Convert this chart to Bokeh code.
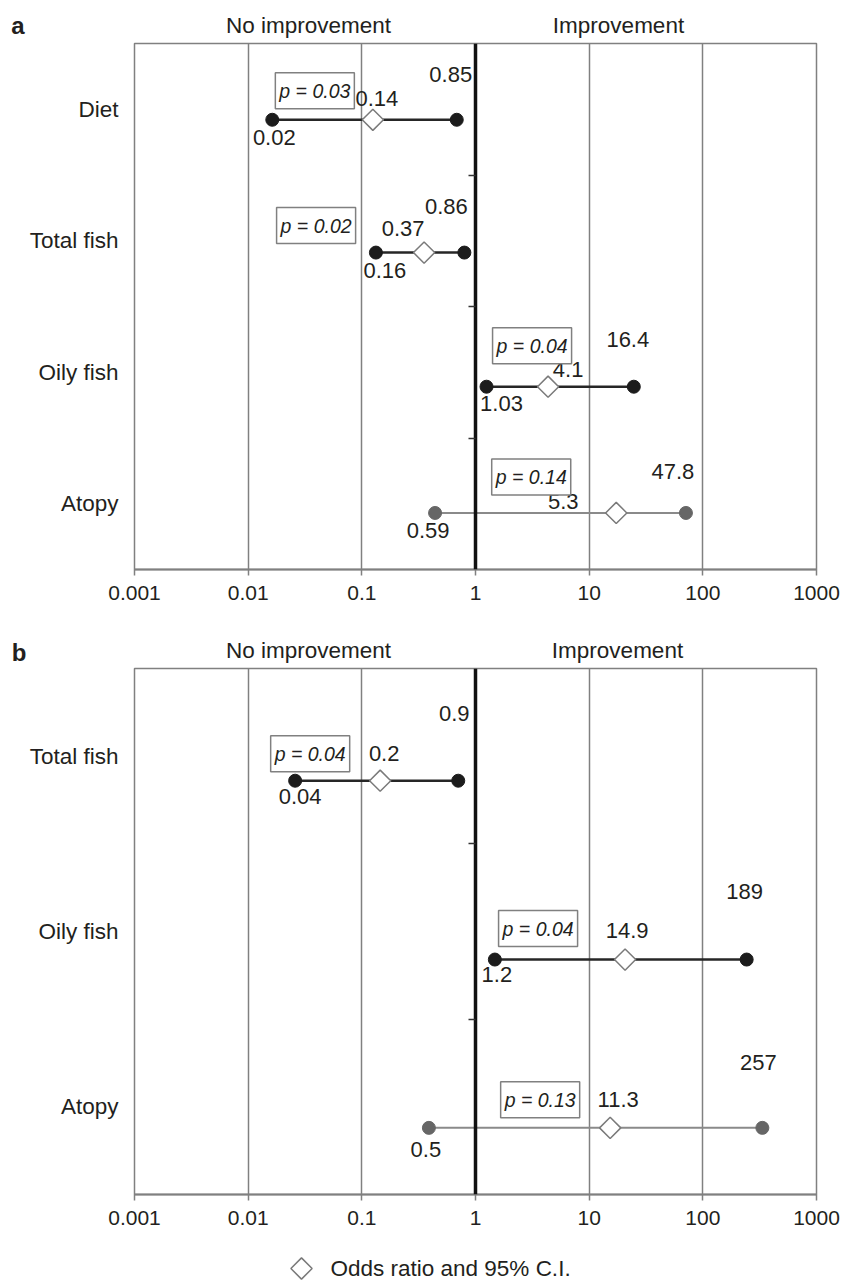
import math
from bokeh.plotting import figure
from bokeh.layouts import column
from bokeh.models import (ColumnDataSource, FixedTicker, LinearAxis,
                          PrintfTickFormatter, Range1d)
from bokeh.core.properties import value
from bokeh.embed import file_html
from bokeh.resources import INLINE

# ---------------- data ----------------
x_ticks = [0.001, 0.01, 0.1, 1, 10, 100, 1000]
x_tick_labels = ["0.001", "0.01", "0.1", "1", "10", "100", "1000"]
grid_ticks = [0.01, 0.1, 10, 100]

# panel a
a_cats = ["Diet", "Total fish", "Oily fish", "Atopy"]
a_row_y = [3.42, 2.41, 1.39, 0.43]          # plotted row positions (category units)
a_or = [0.125, 0.353, 4.35, 17.3]           # plotted odds ratio
a_lo = [0.0163, 0.133, 1.25, 0.441]         # plotted lower CI
a_hi = [0.684, 0.798, 24.7, 71.0]           # plotted upper CI
a_or_lbl = ["0.14", "0.37", "4.1", "5.3"]
a_lo_lbl = ["0.02", "0.16", "1.03", "0.59"]
a_hi_lbl = ["0.85", "0.86", "16.4", "47.8"]
a_p = ["p = 0.03", "p = 0.02", "p = 0.04", "p = 0.14"]
a_sig = [True, True, True, False]

# panel b
b_cats = ["Total fish", "Oily fish", "Atopy"]
b_row_y = [2.36, 1.34, 0.38]
b_or = [0.145, 20.7, 15.3]
b_lo = [0.0259, 1.48, 0.389]
b_hi = [0.705, 243.0, 334.0]
b_or_lbl = ["0.2", "14.9", "11.3"]
b_lo_lbl = ["0.04", "1.2", "0.5"]
b_hi_lbl = ["0.9", "189", "257"]
b_p = ["p = 0.04", "p = 0.04", "p = 0.13"]
b_sig = [True, True, False]

header_texts = ["No improvement", "Improvement"]
legend_text = "Odds ratio and 95% C.I."

# ---------------- layout / style (pixels) ----------------
a_lo_off = [(2, 18), (9, 18), (15, 17), (-7, 18)]
a_or_off = [(4, -21), (-21, -24), (20, -17), (-53, -11)]
a_hi_off = [(-6, -45), (-18, -46), (-6, -47), (-13, -41)]
a_p_off = [(-58, -29), (-108, -27), (-16, -41), (-85, -36)]

b_lo_off = [(5, 16), (2, 15), (-3, 22)]
b_or_off = [(4, -27), (2, -29), (8, -28)]
b_hi_off = [(-4, -67), (-2, -68), (-4, -65)]
b_p_off = [(-70, -27), (-87, -31), (-70, -28)]

W = 841
L, FW = 134, 682          # shared frame left edge and width (frames are aligned)
R = W - L - FW
FONT = "Liberation Sans"
TXT = "#231f20"
GRID = "#808080"
FS_TICK = "21px"
FS_LBL = "22px"
FS_CAT = "22.5px"


def text_strip(height, items, letter=None, diamond=None):
    """A strip above/below a panel; x in page pixels across the shared frame."""
    s = figure(width=W, height=height, x_range=Range1d(L, L + FW),
               y_range=Range1d(0, height), output_backend="svg",
               toolbar_location=None, x_axis_location=None,
               min_border_left=L, min_border_right=R,
               min_border_top=0, min_border_bottom=0)
    s.outline_line_color = None
    s.grid.visible = False
    ya = s.yaxis[0]
    ya.axis_line_color = None
    ya.major_tick_line_color = None
    ya.minor_tick_line_color = None
    ya.major_tick_out = 0
    ya.major_tick_in = 0
    if letter is not None:
        txt, y_top, standoff = letter
        ya.ticker = FixedTicker(ticks=[height - y_top])
        ya.major_label_overrides = {height - y_top: txt}
        ya.major_label_standoff = standoff
        ya.major_label_text_font = FONT
        ya.major_label_text_font_size = "24px"
        ya.major_label_text_font_style = "bold"
        ya.major_label_text_color = TXT
    else:
        ya.ticker = FixedTicker(ticks=[])
    for (x, y_top, txt, size, align) in items:
        s.text(x=[x], y=[height - y_top], text=[txt], text_font=value(FONT),
               text_font_size=size, text_color=TXT,
               text_align=align, text_baseline="middle")
    if diamond is not None:
        dx, dy = diamond
        s.scatter(x=[dx], y=[height - dy], marker="square", angle=math.pi / 4,
                  size=15, fill_color="white", line_color="#7a7a7a",
                  line_width=1.5)
    return s


def make_panel(cats, row_y, orv, lo, hi, lo_lbl, or_lbl, hi_lbl, pvals, sig,
               lo_off, or_off, hi_off, p_off, T, FH, B):
    n = len(cats)
    p = figure(width=W, height=T + FH + B, x_axis_type="log",
               x_range=Range1d(0.001, 1000), y_range=Range1d(0, n),
               output_backend="svg", toolbar_location=None,
               min_border_left=L, min_border_right=R,
               min_border_top=T, min_border_bottom=B)
    p.outline_line_color = GRID
    p.outline_line_width = 1.5

    # x axis
    xa = p.xaxis[0]
    xa.ticker = FixedTicker(ticks=x_ticks)
    xa.formatter = PrintfTickFormatter(format="%g")
    xa.major_label_overrides = dict(zip(x_ticks, x_tick_labels))
    xa.axis_line_color = GRID
    xa.axis_line_width = 2
    xa.major_tick_line_color = GRID
    xa.major_tick_line_width = 1.5
    xa.major_tick_out = 6
    xa.major_tick_in = 0
    xa.minor_tick_line_color = None
    xa.major_label_standoff = 10
    xa.major_label_text_font = FONT
    xa.major_label_text_font_size = FS_TICK
    xa.major_label_text_color = TXT

    p.xgrid.ticker = FixedTicker(ticks=grid_ticks)
    p.xgrid.grid_line_color = GRID
    p.xgrid.grid_line_width = 1.5
    p.ygrid.visible = False

    # category labels on the left
    centers = [n - i - 0.5 for i in range(n)]
    ya = p.yaxis[0]
    ya.ticker = FixedTicker(ticks=centers)
    ya.major_label_overrides = dict(zip(centers, cats))
    ya.axis_line_color = None
    ya.major_tick_line_color = None
    ya.minor_tick_line_color = None
    ya.major_tick_out = 0
    ya.major_tick_in = 0
    ya.major_label_standoff = 16
    ya.major_label_text_font = FONT
    ya.major_label_text_font_size = FS_CAT
    ya.major_label_text_color = TXT

    # vertical axis at odds ratio = 1
    bounds = list(range(1, n))
    mid = LinearAxis(fixed_location=1, ticker=FixedTicker(ticks=bounds),
                     major_label_overrides={b: "" for b in bounds},
                     axis_line_color="#111111", axis_line_width=3.5,
                     major_tick_out=7, major_tick_in=0,
                     major_tick_line_color="#333333", major_tick_line_width=1.5,
                     minor_tick_line_color=None)
    p.add_layout(mid, "left")

    line_c = ["#262626" if s else "#8a8a8a" for s in sig]
    dot_c = ["#1c1c1c" if s else "#666666" for s in sig]
    line_w = [2.5 if s else 2.0 for s in sig]

    seg = ColumnDataSource(dict(x0=lo, x1=hi, y=row_y, c=line_c, w=line_w))
    p.segment(x0="x0", y0="y", x1="x1", y1="y", line_color="c", line_width="w",
              source=seg)

    dots = ColumnDataSource(dict(x=lo + hi, y=row_y + row_y, c=dot_c + dot_c))
    p.scatter(x="x", y="y", marker="circle", size=13, fill_color="c",
              line_color="c", source=dots)

    dia = ColumnDataSource(dict(x=orv, y=row_y))
    p.scatter(x="x", y="y", marker="square", angle=math.pi / 4, size=15,
              fill_color="white", line_color="#7a7a7a", line_width=1.5,
              source=dia)

    offs = lo_off + or_off + hi_off
    lbl = ColumnDataSource(dict(x=lo + orv + hi, y=row_y * 3,
                                t=lo_lbl + or_lbl + hi_lbl,
                                dx=[o[0] for o in offs], dy=[o[1] for o in offs]))
    p.text(x="x", y="y", text="t", x_offset="dx", y_offset="dy", source=lbl,
           text_font=value(FONT), text_font_size=FS_LBL, text_color=TXT,
           text_align="center", text_baseline="middle")

    psrc = ColumnDataSource(dict(x=orv, y=row_y, t=pvals,
                                 dx=[o[0] for o in p_off], dy=[o[1] for o in p_off]))
    p.text(x="x", y="y", text="t", x_offset="dx", y_offset="dy", source=psrc,
           text_font=value(FONT), text_font_size="19.5px", text_font_style="italic",
           text_color=TXT, text_align="center", text_baseline="middle",
           background_fill_color="white", border_line_color=GRID,
           border_line_width=1.5, padding=(4, 7))
    return p


hdr_a = text_strip(41, [(308, 25, header_texts[0], FS_CAT, "center"),
                        (618, 25, header_texts[1], FS_CAT, "center")],
                   letter=("a", 25, 110))
pa = make_panel(a_cats, a_row_y, a_or, a_lo, a_hi, a_lo_lbl, a_or_lbl, a_hi_lbl,
                a_p, a_sig, a_lo_off, a_or_off, a_hi_off, a_p_off,
                T=2, FH=526, B=49)
hdr_b = text_strip(48, [(308, 32, header_texts[0], FS_CAT, "center"),
                        (617, 32, header_texts[1], FS_CAT, "center")],
                   letter=("b", 35, 108))
pb = make_panel(b_cats, b_row_y, b_or, b_lo, b_hi, b_lo_lbl, b_or_lbl, b_hi_lbl,
                b_p, b_sig, b_lo_off, b_or_off, b_hi_off, b_p_off,
                T=2, FH=526, B=39)
leg = text_strip(47, [(330, 35, legend_text, FS_CAT, "left")],
                 diamond=(301, 35))

layout = column(hdr_a, pa, hdr_b, pb, leg, spacing=0)
open("out.html", "w").write(file_html(layout, INLINE))
